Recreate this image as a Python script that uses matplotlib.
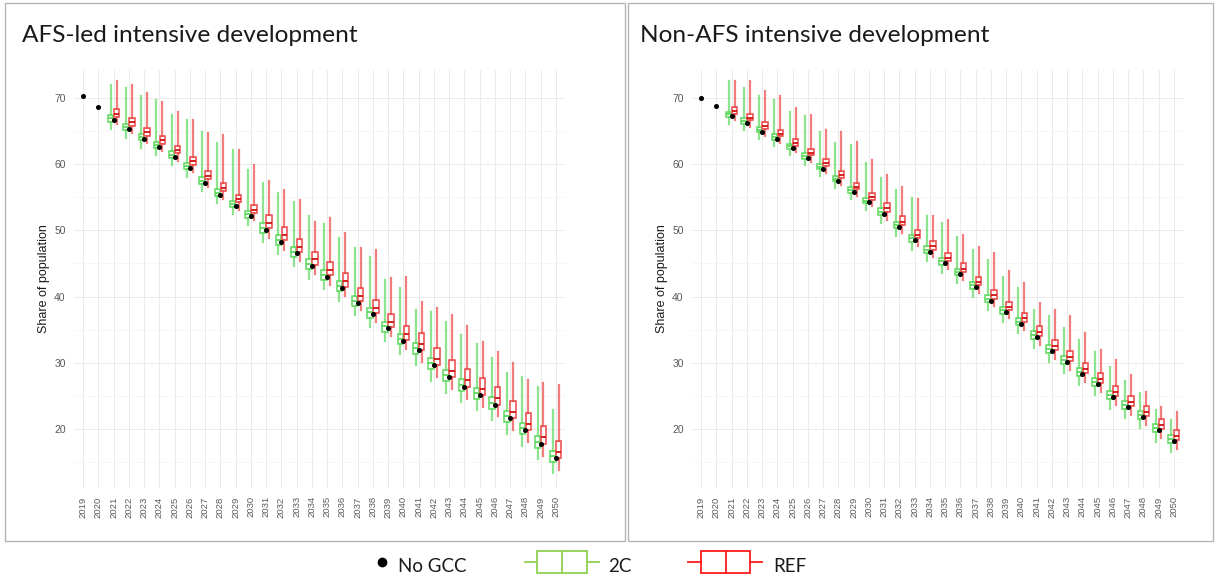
# -*- coding: utf-8 -*-
import numpy as np
import matplotlib
matplotlib.use("Agg")
import matplotlib.pyplot as plt
from matplotlib.patches import Rectangle
from matplotlib.lines import Line2D

years = list(range(2019, 2051))
box_years = list(range(2021, 2051))

# --- AFS-led intensive development ---
afs_nogcc = [70.2, 68.6, 66.6, 65.3, 63.8, 62.6, 61.1, 59.4, 57.2, 55.4, 53.7, 52.1,
             50.1, 48.3, 46.5, 44.6, 43.0, 41.3, 39.1, 37.3, 35.2, 33.3,
             31.9, 29.6, 27.8, 26.4, 25.1, 23.7, 21.6, 19.8, 17.8, 15.6]

afs_2c_lo = [65.3, 64.0, 62.5, 61.3, 59.8, 58.1, 55.9, 54.1, 52.4, 50.8,
             48.2, 46.4, 44.6, 42.7, 41.1, 39.4, 37.2, 35.4, 33.3, 31.4,
             29.6, 27.3, 25.5, 24.1, 22.8, 21.4, 19.3, 17.5, 15.5, 13.3]
afs_2c_q1 = [66.4, 65.1, 63.6, 62.4, 60.9, 59.2, 57.0, 55.2, 53.5, 51.9,
             49.6, 47.8, 46.0, 44.1, 42.5, 40.8, 38.6, 36.8, 34.7, 32.8,
             31.3, 29.0, 27.2, 25.8, 24.5, 23.1, 21.0, 19.2, 17.2, 15.0]
afs_2c_med = [66.9, 65.6, 64.1, 62.9, 61.4, 59.7, 57.5, 55.7, 54.0, 52.4,
              50.4, 48.6, 46.8, 44.9, 43.3, 41.6, 39.4, 37.6, 35.5, 33.6,
              32.2, 29.9, 28.1, 26.7, 25.4, 24.0, 21.9, 20.1, 18.1, 15.9]
afs_2c_q3 = [67.4, 66.1, 64.6, 63.4, 61.9, 60.2, 58.0, 56.2, 54.5, 52.9,
             51.1, 49.3, 47.5, 45.6, 44.0, 42.3, 40.1, 38.3, 36.2, 34.3,
             33.0, 30.7, 28.9, 27.5, 26.2, 24.8, 22.7, 20.9, 18.9, 16.7]
afs_2c_hi = [71.9, 71.5, 70.2, 69.7, 67.4, 66.7, 64.9, 63.2, 62.1, 59.1,
             57.2, 55.6, 54.3, 52.1, 51.0, 48.8, 47.3, 46.0, 42.5, 41.3,
             38.0, 37.7, 36.2, 34.2, 32.9, 30.7, 28.4, 27.9, 26.4, 22.9]

afs_ref_lo = [66.0, 64.7, 63.2, 62.0, 60.5, 58.8, 56.6, 54.8, 53.1, 51.5,
              48.9, 47.1, 45.3, 43.4, 41.8, 40.1, 37.9, 36.1, 34.0, 32.1,
              30.1, 27.8, 26.0, 24.6, 23.3, 21.9, 19.8, 18.0, 16.0, 13.8]
afs_ref_q1 = [67.1, 65.8, 64.3, 63.1, 61.6, 59.9, 57.7, 55.9, 54.2, 52.6,
              50.3, 48.5, 46.7, 44.8, 43.2, 41.5, 39.3, 37.5, 35.4, 33.5,
              31.9, 29.6, 27.8, 26.4, 25.1, 23.7, 21.6, 19.8, 17.8, 15.6]
afs_ref_med = [67.6, 66.3, 64.8, 63.6, 62.1, 60.4, 58.2, 56.4, 54.7, 53.1,
               51.1, 49.3, 47.5, 45.6, 44.0, 42.3, 40.1, 38.3, 36.2, 34.3,
               32.9, 30.6, 28.8, 27.4, 26.1, 24.7, 22.6, 20.8, 18.8, 16.6]
afs_ref_q3 = [68.3, 67.0, 65.5, 64.3, 62.8, 61.1, 58.9, 57.1, 55.4, 53.8,
              52.3, 50.5, 48.7, 46.8, 45.2, 43.5, 41.3, 39.5, 37.4, 35.5,
              34.5, 32.2, 30.4, 29.0, 27.7, 26.3, 24.2, 22.4, 20.4, 18.2]
afs_ref_hi = [72.5, 71.9, 70.7, 69.4, 67.8, 66.7, 64.7, 64.4, 62.1, 59.9,
              57.4, 56.1, 54.6, 51.3, 51.8, 49.6, 47.3, 47.0, 42.8, 43.0,
              39.2, 38.2, 37.2, 35.5, 33.2, 31.7, 29.9, 27.4, 26.9, 26.6]

# --- Non-AFS intensive development ---
non_nogcc = [70.0, 68.8, 67.2, 66.2, 64.9, 63.8, 62.4, 60.9, 59.3, 57.5, 55.8, 54.2,
             52.5, 50.5, 48.5, 46.8, 45.0, 43.4, 41.4, 39.4, 37.6, 35.9,
             33.9, 31.8, 30.1, 28.3, 26.8, 24.8, 23.3, 21.8, 19.8, 18.2]

non_2c_lo = [66.1, 65.1, 63.8, 62.7, 61.3, 59.8, 58.2, 56.4, 54.7, 53.1,
             51.1, 49.1, 47.1, 45.4, 43.6, 42.0, 40.0, 38.0, 36.2, 34.5,
             32.2, 30.1, 28.4, 26.6, 25.1, 23.1, 21.6, 20.1, 18.1, 16.5]
non_2c_q1 = [67.1, 66.1, 64.8, 63.7, 62.3, 60.8, 59.2, 57.4, 55.7, 54.1,
             52.3, 50.3, 48.3, 46.6, 44.8, 43.2, 41.2, 39.2, 37.4, 35.7,
             33.6, 31.5, 29.8, 28.0, 26.5, 24.5, 23.0, 21.5, 19.5, 17.9]
non_2c_med = [67.5, 66.5, 65.2, 64.1, 62.7, 61.2, 59.6, 57.8, 56.1, 54.5,
              52.8, 50.8, 48.8, 47.1, 45.3, 43.7, 41.7, 39.7, 37.9, 36.2,
              34.2, 32.1, 30.4, 28.6, 27.1, 25.1, 23.6, 22.1, 20.1, 18.5]
non_2c_q3 = [67.9, 66.9, 65.6, 64.5, 63.1, 61.6, 60.0, 58.2, 56.5, 54.9,
             53.3, 51.3, 49.3, 47.6, 45.8, 44.2, 42.2, 40.2, 38.4, 36.7,
             34.8, 32.7, 31.0, 29.2, 27.7, 25.7, 24.2, 22.7, 20.7, 19.1]
non_2c_hi = [72.5, 71.5, 70.2, 69.7, 67.9, 67.2, 64.9, 63.2, 62.9, 60.1,
             57.9, 56.1, 54.9, 52.1, 51.1, 49.0, 47.0, 45.5, 43.0, 41.3,
             38.0, 37.0, 35.3, 33.4, 31.7, 29.4, 27.2, 25.4, 22.9, 21.4]

non_ref_lo = [66.6, 65.6, 64.3, 63.2, 61.8, 60.3, 58.7, 56.9, 55.2, 53.6,
              51.6, 49.6, 47.6, 45.9, 44.1, 42.5, 40.5, 38.5, 36.7, 35.0,
              32.7, 30.6, 28.9, 27.1, 25.6, 23.6, 22.1, 20.6, 18.6, 17.0]
non_ref_q1 = [67.6, 66.6, 65.3, 64.2, 62.8, 61.3, 59.7, 57.9, 56.2, 54.6,
              52.8, 50.8, 48.8, 47.1, 45.3, 43.7, 41.7, 39.7, 37.9, 36.2,
              34.1, 32.0, 30.3, 28.5, 27.0, 25.0, 23.5, 22.0, 20.0, 18.4]
non_ref_med = [68.0, 67.0, 65.7, 64.6, 63.2, 61.7, 60.1, 58.3, 56.6, 55.0,
               53.3, 51.3, 49.3, 47.6, 45.8, 44.2, 42.2, 40.2, 38.4, 36.7,
               34.7, 32.6, 30.9, 29.1, 27.6, 25.6, 24.1, 22.6, 20.6, 19.0]
non_ref_q3 = [68.6, 67.6, 66.3, 65.2, 63.8, 62.3, 60.7, 58.9, 57.2, 55.6,
              54.1, 52.1, 50.1, 48.4, 46.6, 45.0, 43.0, 41.0, 39.2, 37.5,
              35.6, 33.5, 31.8, 30.0, 28.5, 26.5, 25.0, 23.5, 21.5, 19.9]
non_ref_hi = [72.6, 72.5, 71.0, 70.2, 68.4, 67.4, 65.2, 64.9, 63.4, 60.6,
              58.4, 56.6, 54.8, 52.1, 51.6, 49.3, 47.5, 46.5, 43.8, 42.0,
              39.0, 38.0, 37.0, 34.5, 31.9, 30.4, 28.2, 25.6, 23.4, 22.6]

titles = ["AFS-led intensive development", "Non-AFS intensive development"]
GREEN = "#5fd85f"
RED = "#ec4646"
LEG_GREEN = "#92d050"
LEG_RED = "#ff1a1a"

W, H = 1216, 578


def fx(px):
    return px / W


def fy(py):
    return 1 - py / H


def make_stats(lo, q1, med, q3, hi):
    return [dict(whislo=a, q1=b, med=c, q3=d, whishi=e, fliers=[])
            for a, b, c, d, e in zip(lo, q1, med, q3, hi)]


def draw_panel(ax, nogcc, c2, ref):
    pos = np.arange(len(years))
    bpos = np.array([years.index(y) for y in box_years])

    # 2C boxes on the left of each year, REF on the right
    ax.bxp(make_stats(*c2), positions=bpos - 0.19, widths=0.36, showcaps=False,
           patch_artist=True,
           boxprops=dict(edgecolor=GREEN, facecolor="white", linewidth=1.1),
           whiskerprops=dict(color=GREEN, linewidth=1.6, alpha=0.7),
           medianprops=dict(color=GREEN, linewidth=1.3), manage_ticks=False)
    ax.bxp(make_stats(*ref), positions=bpos + 0.19, widths=0.36, showcaps=False,
           patch_artist=True,
           boxprops=dict(edgecolor=RED, facecolor="white", linewidth=1.1),
           whiskerprops=dict(color=RED, linewidth=1.6, alpha=0.7),
           medianprops=dict(color="#d01010", linewidth=1.3), manage_ticks=False)
    ax.plot(pos, nogcc, "o", color="black", markersize=2.6, zorder=5)

    ax.set_xlim(-0.6, len(years) - 0.4)
    ax.set_ylim(11.1, 74.2)
    ax.set_xticks(pos)
    ax.set_xticklabels([str(y) for y in years], rotation=90)
    ax.set_yticks([20, 30, 40, 50, 60, 70])
    ax.set_yticks([15, 25, 35, 45, 55, 65], minor=True)
    ax.grid(True, which="major", color="#ebebeb", linewidth=0.7)
    ax.grid(True, which="minor", axis="y", color="#f3f3f3", linewidth=0.5)
    ax.set_axisbelow(True)
    for s in ax.spines.values():
        s.set_visible(False)
    ax.tick_params(which="both", length=0, labelcolor="#5a5a5a")
    ax.tick_params(axis="y", labelsize=7.5, pad=6)
    ax.tick_params(axis="x", labelsize=6.8, pad=6)
    ax.set_ylabel("Share of population", fontsize=9, color="#1a1a1a", labelpad=3)


if __name__ == "__main__":
    plt.rcParams["font.family"] = ["Liberation Sans", "DejaVu Sans"]
    fig = plt.figure(figsize=(W / 100, H / 100), dpi=100)

    panels = [
        (afs_nogcc, (afs_2c_lo, afs_2c_q1, afs_2c_med, afs_2c_q3, afs_2c_hi),
         (afs_ref_lo, afs_ref_q1, afs_ref_med, afs_ref_q3, afs_ref_hi)),
        (non_nogcc, (non_2c_lo, non_2c_q1, non_2c_med, non_2c_q3, non_2c_hi),
         (non_ref_lo, non_ref_q1, non_ref_med, non_ref_q3, non_ref_hi)),
    ]

    frames = [(5, 625), (628, 1213)]
    for i, (nogcc, c2, ref) in enumerate(panels):
        off = 618 * i
        ax = fig.add_axes([fx(74 + off), fy(488), fx(565 - 74), fy(70) - fy(488)])
        draw_panel(ax, nogcc, c2, ref)
        x0, x1 = frames[i]
        fig.add_artist(Rectangle((fx(x0), fy(541)), fx(x1 - x0), fy(3) - fy(541),
                                 transform=fig.transFigure, fill=False,
                                 edgecolor="#b5b5b5", linewidth=1.0))
        fig.text(fx(22 + off), fy(35), titles[i], fontsize=17.6, family="Lato",
                 color="#1a1a1a", va="center", ha="left")

    # legend along the bottom
    ly = fy(562)
    fig.add_artist(Line2D([fx(382)], [ly], marker="o", color="black",
                          markersize=6, transform=fig.transFigure))
    fig.text(fx(398), fy(566), "No GCC", fontsize=13.5, family="Lato",
             color="#1a1a1a", va="center")
    for col, (wl, bl, br, wr), xt, lab in [
            (LEG_GREEN, (525, 537, 587, 599), 608, "2C"),
            (LEG_RED, (688, 701, 750, 762), 773, "REF")]:
        fig.add_artist(Line2D([fx(wl), fx(bl)], [ly, ly], color=col, linewidth=1.3,
                              transform=fig.transFigure))
        fig.add_artist(Line2D([fx(br), fx(wr)], [ly, ly], color=col, linewidth=1.3,
                              transform=fig.transFigure))
        fig.add_artist(Rectangle((fx(bl), fy(573)), fx(br - bl), fy(551) - fy(573),
                                 transform=fig.transFigure, fill=False,
                                 edgecolor=col, linewidth=1.3))
        mid = (bl + br) / 2
        fig.add_artist(Line2D([fx(mid), fx(mid)], [fy(573), fy(551)], color=col,
                              linewidth=1.3, transform=fig.transFigure))
        fig.text(fx(xt), fy(566), lab, fontsize=13.5, family="Lato",
                 color="#1a1a1a", va="center")

    fig.savefig("out.png", dpi=100)
